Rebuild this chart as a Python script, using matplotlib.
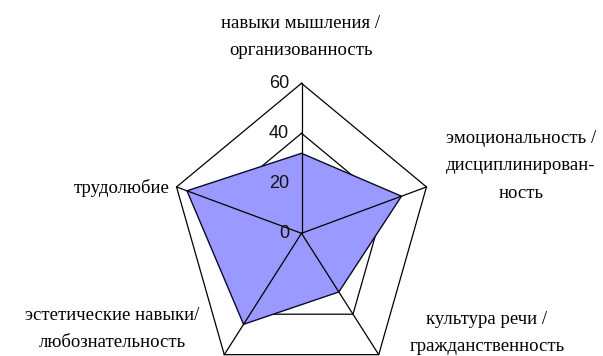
import numpy as np
import matplotlib
matplotlib.use("Agg")
import matplotlib.pyplot as plt

# --- data ---
categories = [
    "навыки мышления /\nорганизованность",
    "эмоциональность /\nдисциплинирован-\nность",
    "культура речи /\nгражданственность",
    "эстетические навыки/\nлюбознательность",
    "трудолюбие",
]
values = [32, 48, 29, 45, 55]
grid_levels = [20, 40, 60]
tick_labels = ["0", "20", "40", "60"]
tick_values = [0, 20, 40, 60]

# --- geometry: Cartesian axes in value units, squashed horizontally like the source ---
W, H = 603, 356
CX, CY = 301.5, 233.3          # centre in pixels
SX, SY = 2.19, 2.5             # pixels per unit (x, y)

fig = plt.figure(figsize=(W / 100, H / 100), dpi=100)
ax = fig.add_axes([0, 0, 1, 1])
ax.set_xlim(-CX / SX, (W - CX) / SX)
ax.set_ylim(-(H - CY) / SY, CY / SY)
ax.axis("off")

def px(x, y):
    """pixel coords (from top-left) -> data coords"""
    return (x - CX) / SX, (CY - y) / SY

n = len(categories)
ang = np.pi / 2 - 2 * np.pi * np.arange(n) / n
ang_c = np.append(ang, ang[0])

# grid pentagons (under the fill)
for lv in grid_levels:
    ax.plot(lv * np.cos(ang_c), lv * np.sin(ang_c), color="black", lw=0.9, zorder=1)

# series
v = np.array(values + values[:1], dtype=float)
ax.fill(v * np.cos(ang_c), v * np.sin(ang_c), facecolor="#9999FF",
        edgecolor="#0a0a2a", lw=1.0, zorder=2)

# spokes on top
top = max(grid_levels)
for a in ang:
    ax.plot([0, top * np.cos(a)], [0, top * np.sin(a)], color="black", lw=0.9, zorder=3)

# value axis labels
for t, lab in zip(tick_values, tick_labels):
    x, y = px(289, CY - t * SY)
    ax.text(x, y, lab, ha="right", va="center", fontsize=13,
            family="Liberation Sans", color="#111111", zorder=4)

# category labels
lab_pos = [(301, 37), (521, 166), (487, 333), (112, 329), (170, 188)]
lab_ha = ["center", "center", "center", "center", "right"]
for lab, (x, y), ha in zip(categories, lab_pos, lab_ha):
    dx, dy = px(x, y)
    ax.text(dx, dy, lab, ha=ha, va="center", multialignment="center",
            fontsize=13.5, family="Liberation Serif", linespacing=1.8, zorder=4)

fig.savefig("out.png", dpi=100, facecolor="white")
